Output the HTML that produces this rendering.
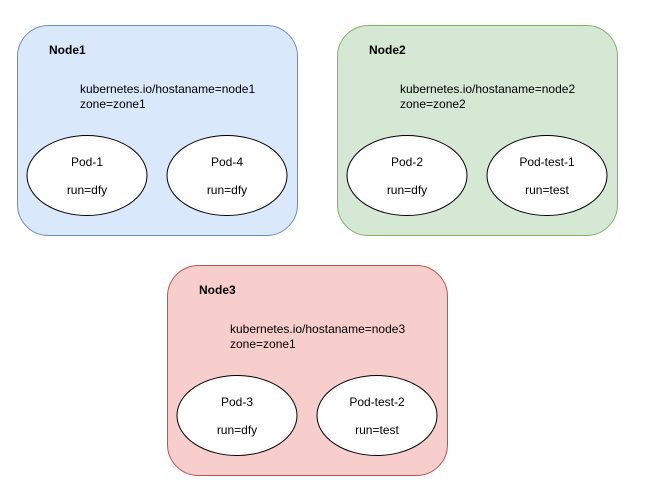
<!DOCTYPE html>
<html><head><style>body{margin:0;background:#fff}svg{display:block}</style></head><body>
<svg width="647" height="496" xmlns="http://www.w3.org/2000/svg" font-family="Liberation Sans, Helvetica, Arial, sans-serif" font-size="12" fill="#000">
<g stroke-width="1">
<rect x="17.5" y="25.5" width="280" height="210" rx="31" fill="#dae8fc" stroke="#6c8ebf"/>
<rect x="337.5" y="25.5" width="280" height="210" rx="31" fill="#d5e8d4" stroke="#82b366"/>
<rect x="167.5" y="265.5" width="280" height="210" rx="31" fill="#f8cecc" stroke="#b85450"/>
<g fill="#fff" stroke="#000">
<ellipse cx="87" cy="175.5" rx="60" ry="40"/>
<ellipse cx="227" cy="175.5" rx="60" ry="40"/>
<ellipse cx="407" cy="175.5" rx="60" ry="40"/>
<ellipse cx="547" cy="175.5" rx="60" ry="40"/>
<ellipse cx="237" cy="415.5" rx="60" ry="40"/>
<ellipse cx="377" cy="415.5" rx="60" ry="40"/>
</g>
</g>
<g font-weight="bold">
<text x="49" y="54">Node1</text>
<text x="369" y="54">Node2</text>
<text x="199" y="294">Node3</text>
</g>
<text x="80" y="93">kubernetes.io/hostaname=node1</text>
<text x="80" y="108">zone=zone1</text>
<text x="400" y="93">kubernetes.io/hostaname=node2</text>
<text x="400" y="108">zone=zone2</text>
<text x="230" y="333">kubernetes.io/hostaname=node3</text>
<text x="230" y="348">zone=zone1</text>
<g text-anchor="middle">
<text x="87" y="166">Pod-1</text><text x="87" y="194">run=dfy</text>
<text x="227" y="166">Pod-4</text><text x="227" y="194">run=dfy</text>
<text x="407" y="166">Pod-2</text><text x="407" y="194">run=dfy</text>
<text x="547" y="166">Pod-test-1</text><text x="547" y="194">run=test</text>
<text x="237" y="406">Pod-3</text><text x="237" y="434">run=dfy</text>
<text x="377" y="406">Pod-test-2</text><text x="377" y="434">run=test</text>
</g>
</svg>
</body></html>
